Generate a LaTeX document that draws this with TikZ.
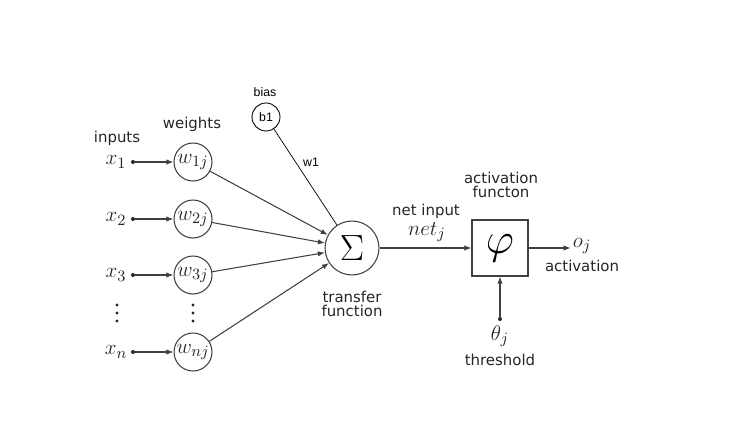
\documentclass[tikz,border=0pt]{standalone}
\usepackage[no-math]{fontspec}
\setmainfont{DejaVu Sans}
\newfontfamily\paintfont{Liberation Sans}
\usetikzlibrary{arrows.meta}
\tikzset{
	txt/.style={inner sep=0pt,text=black!85,font=\fontsize{8.5}{10}\selectfont,align=center},
	smalltxt/.style={inner sep=0pt,font=\paintfont\fontsize{7}{8}\selectfont},
	mathtxt/.style={inner sep=1pt,text=black!85,font=\fontsize{12.5}{14}\selectfont},
	weight/.style={circle,draw=black!75,line width=0.6pt,minimum size=0.76cm,inner sep=0pt,text=black!85,font=\fontsize{12.5}{14}\selectfont},
	dot/.style={circle,fill=black!85,minimum size=0.08cm,inner sep=0pt},
	conn/.style={draw=black!75,line width=0.6pt,-{Latex[length=4pt,width=3pt]}},
}
\begin{document}
\begin{tikzpicture}[x=0.02cm,y=-0.02cm]
				\useasboundingbox (0,0) rectangle (749,439);
				
				\node[txt] (inputs) at (117,138) {inputs};
				\node[txt] (weights) at (192,124) {weights};
				
				\foreach \row/\y in {1/162,2/219,3/275,n/352} {
					\node[mathtxt] (x\row) at (116,\y) {$x_{\row}$};
					\node[dot] (d\row) at (133,\y) {};
					\node[weight] (w\row) at (193,\y) {$w_{\row j}$};
					\draw[conn] (d\row) -- (w\row);
				}
				
				\foreach \y in {305,313,321} {
					\fill[black!85] (117,\y) circle (1.6);
					\fill[black!85] (193,\y) circle (1.6);
				}
				
				\node[circle,draw=black!75,line width=0.6pt,minimum size=1.08cm,inner sep=0pt,font=\fontsize{21}{23}\selectfont] (sum) at (352,248) {$\Sigma$};
				\foreach \row in {1,2,3,n} {
					\draw[conn] (w\row) -- (sum);
				}
				
				\node[smalltxt] (bias) at (265,92) {bias};
				\node[circle,draw=black,line width=0.5pt,minimum size=0.56cm,inner sep=0pt,font=\paintfont\fontsize{7}{8}\selectfont] (b1) at (266,117) {b1};
				\draw[black,line width=0.4pt] (b1) -- (sum);
				\node[smalltxt] (w1) at (311,162) {w1};
				
				\node[txt] (transfer) at (352,304) {transfer\\[-2pt]function};
				
				\node[draw=black!75,line width=0.6pt,minimum size=1.12cm,inner sep=0pt,font=\fontsize{23}{25}\selectfont] (act) at (500,248) {$\varphi$};
				\draw[conn] (sum) -- (act);
				\node[txt] (netinput) at (426,211) {net input};
				\node[mathtxt] (net) at (427,232) {$net_j$};
				\node[txt] (actfun) at (501,185) {activation\\[-2pt]functon};
				
				\node[mathtxt] (oj) at (582,246) {$o_j$};
				\draw[conn] (act.east) -- (act.east -| oj.west);
				\node[txt] (actlab) at (582,266) {activation};
				
				\node[dot] (th) at (500,319) {};
				\draw[conn] (th) -- (act);
				\node[mathtxt] (theta) at (500,336) {$\theta_j$};
				\node[txt] (threshold) at (500,360) {threshold};
			\end{tikzpicture}
\end{document}
